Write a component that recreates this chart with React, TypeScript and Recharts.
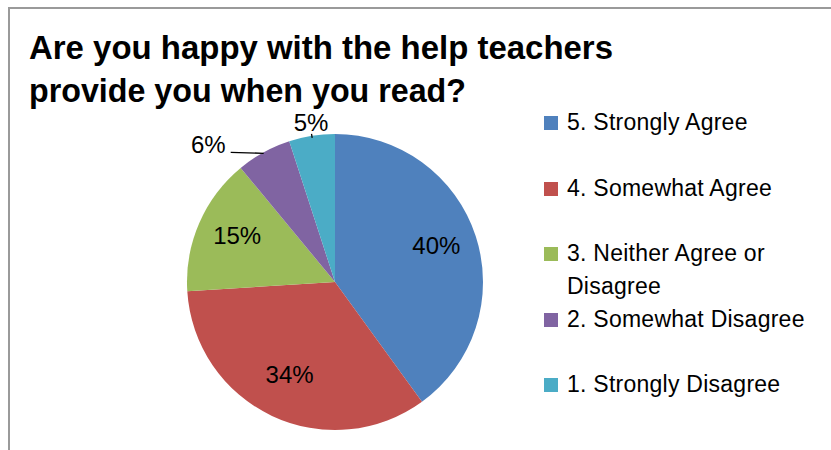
import React from 'react';
import { PieChart, Pie, Cell, Legend } from 'recharts';

const categories = [
  '5. Strongly Agree',
  '4. Somewhat Agree',
  '3. Neither Agree or Disagree',
  '2. Somewhat Disagree',
  '1. Strongly Disagree',
];
const values = [40, 34, 15, 6, 5];
const colors = ['#4F81BD', '#C0504D', '#9BBB59', '#8064A2', '#4BACC6'];
const titleLines = ['Are you happy with the help teachers', 'provide you when you read?'];

const data = categories.map((name, i) => ({ name, value: values[i] }));

const FONT = '"Liberation Sans", Arial, sans-serif';
const RAD = Math.PI / 180;

const renderLabel = (props: any) => {
  const { cx, cy, midAngle, outerRadius, index, value } = props;
  const cos = Math.cos(-midAngle * RAD);
  const sin = Math.sin(-midAngle * RAD);
  const common = { fontFamily: FONT, fontSize: 24, fill: '#000' };
  if (index <= 2) {
    const r = outerRadius * 0.72;
    return (
      <text x={cx + r * cos} y={cy + r * sin - 4} textAnchor="middle" dominantBaseline="central" {...common}>
        {`${value}%`}
      </text>
    );
  }
  if (index === 3) {
    const ex = cx + outerRadius * cos;
    const ey = cy + outerRadius * sin + 1;
    return (
      <g>
        <path d={`M${ex},${ey} L${ex - 33},${ey - 1}`} stroke="#000" strokeWidth={1.3} fill="none" />
        <text x={ex - 38} y={ey} textAnchor="end" {...common}>
          {`${value}%`}
        </text>
      </g>
    );
  }
  const r1 = outerRadius - 2;
  const r2 = outerRadius + 2;
  const rt = outerRadius + 5;
  return (
    <g>
      <path
        d={`M${cx + r1 * cos},${cy + r1 * sin} L${cx + r2 * cos},${cy + r2 * sin}`}
        stroke="#000"
        strokeWidth={1.3}
        fill="none"
      />
      <text x={cx + rt * cos} y={cy + rt * sin} textAnchor="middle" {...common}>
        {`${value}%`}
      </text>
    </g>
  );
};

const gapsAfter = [33, 32, 0, 32, 0];

const renderLegend = () => (
  <div style={{ fontFamily: FONT, fontSize: 23, color: '#000' }}>
    {categories.map((c, i) => (
      <div key={c} style={{ display: 'flex', alignItems: 'flex-start', marginBottom: gapsAfter[i] }}>
        <div
          style={{
            width: 14,
            height: 14,
            background: colors[i],
            marginTop: 9.5,
            marginRight: 9,
            flex: '0 0 auto',
          }}
        />
        <div style={{ lineHeight: '33px', width: 250, letterSpacing: 0.25 }}>{c}</div>
      </div>
    ))}
  </div>
);

export default function App() {
  return (
    <div style={{ position: 'absolute', left: 0, top: 0, width: 831, height: 450, background: '#fff', overflow: 'hidden' }}>
      <PieChart width={831} height={450} margin={{ top: 0, right: 0, bottom: 0, left: 0 }}>
        <Pie
          data={data}
          dataKey="value"
          nameKey="name"
          cx={335}
          cy={282}
          outerRadius={148}
          startAngle={90}
          endAngle={-270}
          stroke="none"
          isAnimationActive={false}
          label={renderLabel}
          labelLine={false}
        >
          {data.map((d, i) => (
            <Cell key={d.name} fill={colors[i]} />
          ))}
        </Pie>
        <Legend
          layout="vertical"
          align="right"
          verticalAlign="top"
          content={renderLegend}
          wrapperStyle={{ position: 'absolute', left: 544, top: 106, width: 280 }}
        />
      </PieChart>
      <svg
        width={831}
        height={450}
        style={{ position: 'absolute', left: 0, top: 0, pointerEvents: 'none' }}
      >
        <path d="M9,450 L9,8 L831,8" stroke="#9a9a9a" strokeWidth={2} fill="none" />
        <text
          x={29}
          y={59}
          fontFamily={FONT}
          fontWeight="bold"
          fontSize={33}
          fill="#000"
          textLength={584}
          lengthAdjust="spacingAndGlyphs"
        >
          {titleLines[0]}
        </text>
        <text
          x={29}
          y={102}
          fontFamily={FONT}
          fontWeight="bold"
          fontSize={33}
          fill="#000"
          textLength={437}
          lengthAdjust="spacingAndGlyphs"
        >
          {titleLines[1]}
        </text>
      </svg>
    </div>
  );
}
